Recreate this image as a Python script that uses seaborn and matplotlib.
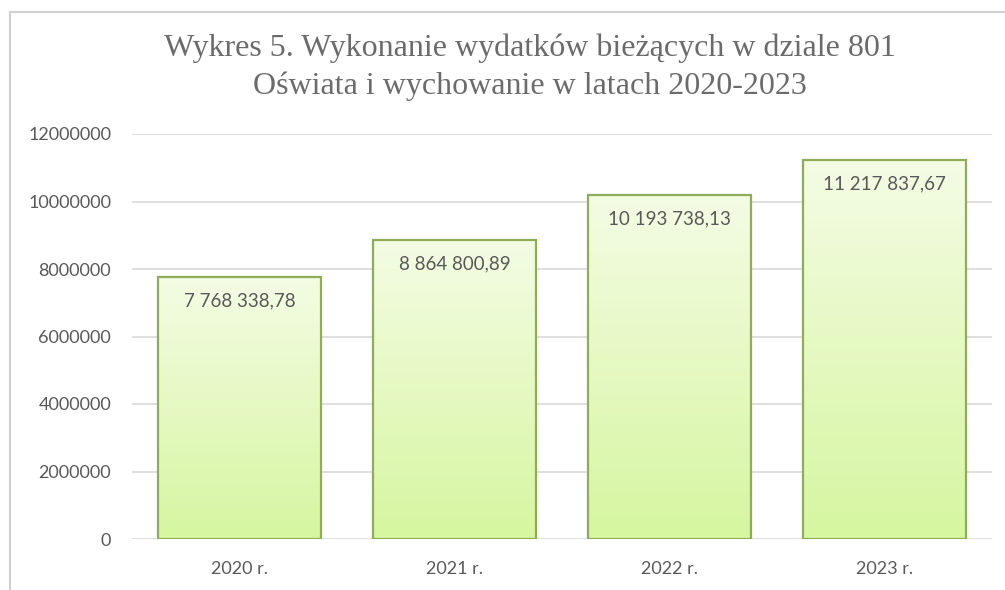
import numpy as np
import pandas as pd
import matplotlib
matplotlib.use('Agg')
import matplotlib.pyplot as plt
import seaborn as sns
from matplotlib.lines import Line2D

# dane
lata = ['2020 r.', '2021 r.', '2022 r.', '2023 r.']
wydatki = [7768338.78, 8864800.89, 10193738.13, 11217837.67]
etykiety = ['7 768 338,78', '8 864 800,89', '10 193 738,13', '11 217 837,67']
y_ticks = [0, 2000000, 4000000, 6000000, 8000000, 10000000, 12000000]

sns.set_theme(style='white')
plt.rcParams['font.family'] = ['Lato', 'DejaVu Sans']

df = pd.DataFrame({'rok': lata, 'kwota': wydatki})

fig = plt.figure(figsize=(10.05, 5.9), dpi=100)
ax = fig.add_axes([132 / 1005, 1 - 539 / 590, 860 / 1005, 405 / 590])

sns.barplot(data=df, x='rok', y='kwota', ax=ax, color='#dcf8a8',
            width=0.755, edgecolor='#8fac58', linewidth=1.6, zorder=3)

ax.set_yticks(y_ticks)
ax.set_yticklabels([str(t) for t in y_ticks])
ax.set_xlabel('')
ax.set_ylabel('')
for s in ax.spines.values():
    s.set_visible(False)
ax.grid(axis='y', color='#d9d9d9', linewidth=1.2, zorder=0)
ax.set_axisbelow(True)
ax.tick_params(axis='both', length=0, labelsize=13, colors='#595959')
ax.tick_params(axis='y', pad=15)
ax.tick_params(axis='x', pad=16)

# gradient w słupkach: jasny u góry, zielony u dołu
grad = np.linspace(0, 1, 256).reshape(-1, 1)
cmap = matplotlib.colors.LinearSegmentedColormap.from_list('g', ['#d6f6a0', '#f4fce4'])
for p in ax.patches:
    x0, y0 = p.get_x(), p.get_y()
    w, h = p.get_width(), p.get_height()
    im = ax.imshow(grad, cmap=cmap, aspect='auto', origin='lower',
                   extent=[x0, x0 + w, y0, y0 + h], zorder=3.5)
    im.set_clip_path(p)
    p.set_facecolor('none')
    p.set_zorder(4)

# etykiety danych wewnątrz słupków
for i, (v, t) in enumerate(zip(wydatki, etykiety)):
    ax.annotate(t, (i, v), xytext=(0, -11), textcoords='offset points',
                ha='center', va='top', fontsize=13.5, color='#595959', zorder=5)

ax.set_xlim(-0.5, 3.5)
ax.set_ylim(0, 12000000)

fig.text(0.527, 1 - 48 / 590, 'Wykres 5. Wykonanie wydatków bieżących w dziale 801',
         ha='center', va='center', fontsize=23, color='#6b6b6b',
         family=['Liberation Serif', 'DejaVu Serif'])
fig.text(0.527, 1 - 86 / 590, 'Oświata i wychowanie w latach 2020-2023',
         ha='center', va='center', fontsize=23, color='#6b6b6b',
         family=['Liberation Serif', 'DejaVu Serif'])

# ramka obszaru wykresu
fig.add_artist(Line2D([10 / 1005, 10 / 1005], [0, 1 - 12 / 590],
                      transform=fig.transFigure, color='#d0d0d0', linewidth=1.5))
fig.add_artist(Line2D([10 / 1005, 1], [1 - 12 / 590, 1 - 12 / 590],
                      transform=fig.transFigure, color='#d0d0d0', linewidth=1.5))

fig.savefig('out.png', dpi=100)
